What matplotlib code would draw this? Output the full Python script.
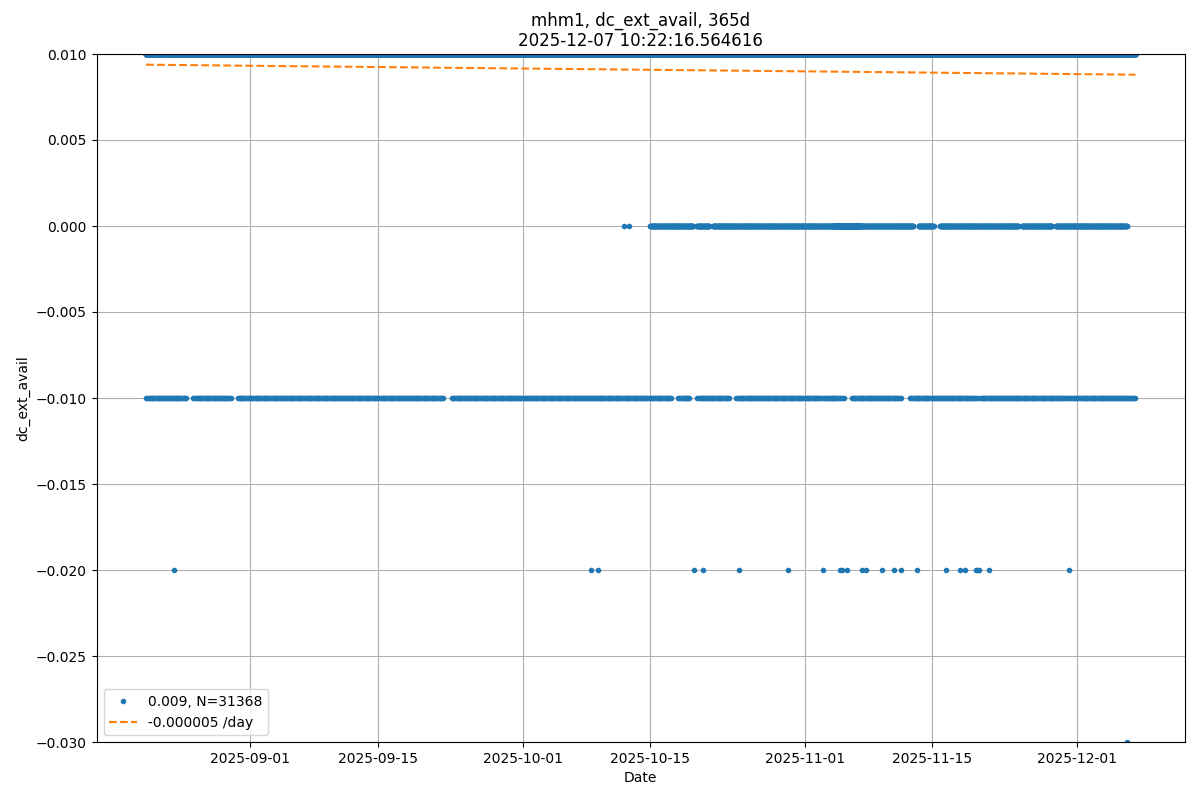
import numpy as np
import pandas as pd
import matplotlib
matplotlib.use("Agg")
import matplotlib.pyplot as plt

#Sampling: one reading every 5 minutes
sampleStart="2025-08-20 12:25"
sampleCount=31368
sampleFreq="5min"

#Level values seen on the chart
baseLevel=0.01

#Periods where -0.01 readings show up (one every 3 h)
minusSegments=[("2025-08-20 13:00","2025-08-24 22:00"),
               ("2025-08-25 17:00","2025-08-29 21:00"),
               ("2025-08-30 14:00","2025-09-22 07:00"),
               ("2025-09-23 05:00","2025-10-17 10:00"),
               ("2025-10-18 02:00","2025-10-19 10:00"),
               ("2025-10-20 05:00","2025-10-23 19:00"),
               ("2025-10-24 12:00","2025-11-05 10:00"),
               ("2025-11-06 05:00","2025-11-11 15:00"),
               ("2025-11-12 15:00","2025-12-07 10:00")]

#Periods where 0.0 readings show up (one every 50 min)
zeroSegments=[("2025-10-15 00:00","2025-10-19 18:00"),
              ("2025-10-20 03:00","2025-10-21 13:00"),
              ("2025-10-21 22:00","2025-11-13 00:00"),
              ("2025-11-13 13:00","2025-11-15 05:00"),
              ("2025-11-15 22:00","2025-11-24 13:00"),
              ("2025-11-24 22:00","2025-11-28 06:00"),
              ("2025-11-28 15:00","2025-12-06 12:00")]
zeroDense=("2025-11-04 06:00","2025-11-07 04:00")
zeroSingles=["2025-10-12 02:10","2025-10-12 15:10"]

#Single low readings
minus2Times=["2025-08-23 13:30","2025-10-08 11:30","2025-10-09 06:00",
             "2025-10-19 19:00","2025-10-20 19:30","2025-10-24 19:00",
             "2025-10-30 04:30","2025-11-03 00:00","2025-11-04 22:00",
             "2025-11-05 03:00","2025-11-05 15:00","2025-11-07 08:30",
             "2025-11-07 19:30","2025-11-09 13:00","2025-11-10 19:00",
             "2025-11-11 16:00","2025-11-13 08:00","2025-11-16 12:45",
             "2025-11-18 03:30","2025-11-18 16:30","2025-11-19 21:00",
             "2025-11-20 02:00","2025-11-20 06:00","2025-11-21 08:00",
             "2025-11-30 03:00"]
minus3Times=["2025-12-06 11:30"]

#Linear trend end points
trendValues=[0.009378,0.008797]


def setLevel(values,times,t0,t1,step,level):
    #Put a reading at the given level every 'step' inside [t0,t1]
    for t in pd.date_range(t0,t1,freq=step):
        i=times.get_indexer([t],method="nearest")[0]
        values[i]=level


def main():
    times=pd.date_range(sampleStart,periods=sampleCount,freq=sampleFreq)
    values=np.full(sampleCount,baseLevel)

    #zeros first so the -0.01 readings are not overwritten
    for t0,t1 in zeroSegments:
        setLevel(values,times,t0,t1,"50min",0.0)
    setLevel(values,times,zeroDense[0],zeroDense[1],"15min",0.0)
    for t0,t1 in minusSegments:
        setLevel(values,times,t0,t1,"3h",-0.01)
    for t in zeroSingles:
        setLevel(values,times,t,t,"1h",0.0)
    for t in minus2Times:
        setLevel(values,times,t,t,"1h",-0.02)
    for t in minus3Times:
        setLevel(values,times,t,t,"1h",-0.03)

    days=(times[-1]-times[0]).total_seconds()/86400
    slope=(trendValues[1]-trendValues[0])/days

    fig,ax=plt.subplots(figsize=(12,8),dpi=100)
    ax.plot(times,values,".",label="%.3f, N=%d"%(values.mean(),len(values)))
    ax.plot([times[0],times[-1]],trendValues,"--",label="%.6f /day"%slope)

    ax.set_ylim(-0.03,0.01)
    ax.set(xlabel="Date",ylabel="dc_ext_avail")
    ax.set_title("mhm1, dc_ext_avail, 365d\n2025-12-07 10:22:16.564616",linespacing=1.1)
    ax.grid()
    ax.legend(loc="lower left")
    fig.subplots_adjust(left=0.0805,right=0.9875,top=0.9325,bottom=0.0725)
    fig.savefig("out.png")


main()
